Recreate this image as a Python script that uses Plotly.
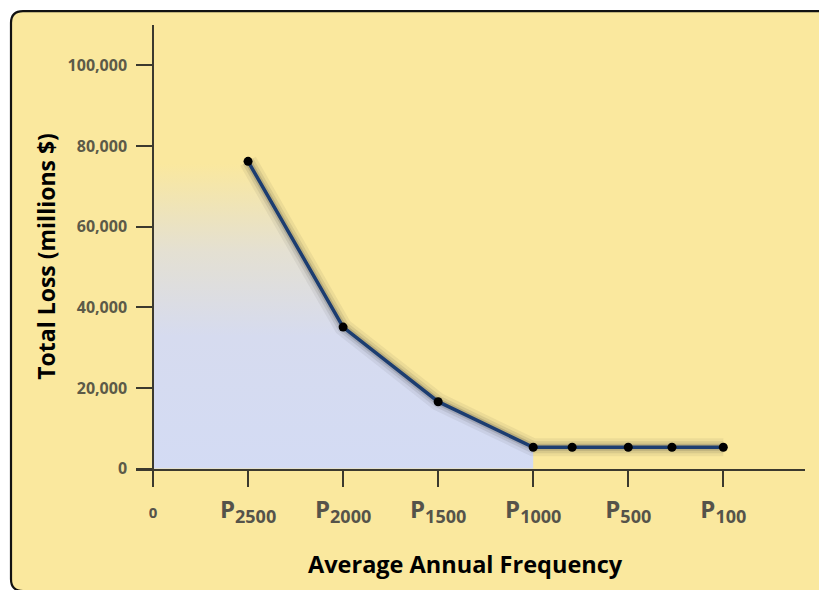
import plotly.graph_objects as go

# ---- data ----
freq_pos = [1, 2, 3, 4, 4.41, 5, 5.46, 6]
total_loss = [76200, 35100, 16600, 5300, 5300, 5300, 5300, 5300]
tick_pos = [0, 1, 2, 3, 4, 5, 6]
tick_main = ["0", "P", "P", "P", "P", "P", "P"]
tick_sub = ["", "2500", "2000", "1500", "1000", "500", "100"]
y_ticks = [0, 20000, 40000, 60000, 80000, 100000]

W, H = 827, 590
OFF = 8      # page body margin
VS = 0.9866  # observed vertical scale of the capture
def fx(px): return (px - OFF) / W
def fy(py): return 1 - (py / VS - OFF) / H

FONT = "Open Sans"
CARD = "#FAE89E"

ticktext = []
for m, s in zip(tick_main, tick_sub):
    if s:
        ticktext.append(f"{m}<sub><span style='font-size:18px'>{s}</span></sub>")
    else:
        ticktext.append(f"<span style='font-size:15px'>{m}</span>")

# fill under curve up to P1000
n_fill = 4
fill_x = [0] + freq_pos[:n_fill]
fill_y = [total_loss[0]] + total_loss[:n_fill]

fig = go.Figure()
fig.add_trace(go.Scatter(
    x=fill_x, y=fill_y, mode="none", fill="tozeroy",
    fillgradient=dict(type="vertical", start=0, stop=max(fill_y),
                      colorscale=[[0, "#D3DBF4"], [0.45, "#D6DBEF"],
                                  [0.72, "#E4E0D2"], [1, CARD]]),
    hoverinfo="skip", showlegend=False))
# soft shadow of the line
for w, a in [(18, 0.07), (12, 0.11), (7, 0.18)]:
    fig.add_trace(go.Scatter(x=freq_pos, y=total_loss, mode="lines",
                             line=dict(color=f"rgba(55,55,55,{a})", width=w),
                             hoverinfo="skip", showlegend=False))
fig.add_trace(go.Scatter(
    x=freq_pos, y=total_loss, mode="lines+markers",
    line=dict(color="#1C3D70", width=3.5),
    marker=dict(color="black", size=9),
    showlegend=False))

x0_px, x1_px = 136, 805
y0_px, y1_px = 471, 25
ppu = (723.3 - 153) / 6
xr = [-(153 - x0_px) / ppu, (x1_px - 153) / ppu]

axis_col = "#3b392e"
fig.update_layout(
    width=W, height=H,
    margin=dict(l=0, r=0, t=0, b=0),
    paper_bgcolor="white",
    plot_bgcolor="rgba(0,0,0,0)",
    xaxis=dict(domain=[fx(x0_px), fx(x1_px)], range=xr,
               showgrid=False, zeroline=False,
               showline=True, linecolor=axis_col, linewidth=1.5,
               ticks="outside", ticklen=17, tickwidth=1.5, tickcolor=axis_col,
               tickvals=tick_pos, ticktext=ticktext,
               ticklabelstandoff=2,
               tickfont=dict(family=FONT, size=24, color="#55534a", weight="bold")),
    yaxis=dict(domain=[fy(y0_px), fy(y1_px)], range=[0, 110000],
               anchor="free", position=fx(153),
               showgrid=False, zeroline=False,
               showline=True, linecolor=axis_col, linewidth=1.5,
               ticks="outside", ticklen=16, tickwidth=1.5, tickcolor=axis_col,
               tickvals=y_ticks, tickformat=",",
               ticklabelstandoff=6,
               tickfont=dict(family=FONT, size=16, color="#5c5a48", weight="bold")),
    annotations=[
        dict(text="Average Annual Frequency", x=fx(465), y=fy(567),
             xref="paper", yref="paper", showarrow=False,
             xanchor="center", yanchor="middle",
             font=dict(family=FONT, size=23.5, color="black", weight="bold")),
        dict(text="Total Loss (millions $)", x=fx(46), y=fy(258),
             xref="paper", yref="paper", showarrow=False, textangle=-90,
             xanchor="center", yanchor="middle",
             font=dict(family=FONT, size=23, color="black", weight="bold")),
    ],
)

# rounded card background
cx0, cy_top = fx(11), fy(11)
cx1, cy_bot = 1.05, fy(594)
rx, ry = 12 / W, 12 / H
path = (f"M {cx0+rx},{cy_top} L {cx1},{cy_top} L {cx1},{cy_bot} "
        f"L {cx0+rx},{cy_bot} Q {cx0},{cy_bot} {cx0},{cy_bot+ry} "
        f"L {cx0},{cy_top-ry} Q {cx0},{cy_top} {cx0+rx},{cy_top} Z")
fig.add_shape(type="path", path=path, xref="paper", yref="paper",
              fillcolor=CARD, line=dict(color="#111", width=2.2), layer="below")

fig.write_html("out.html")
